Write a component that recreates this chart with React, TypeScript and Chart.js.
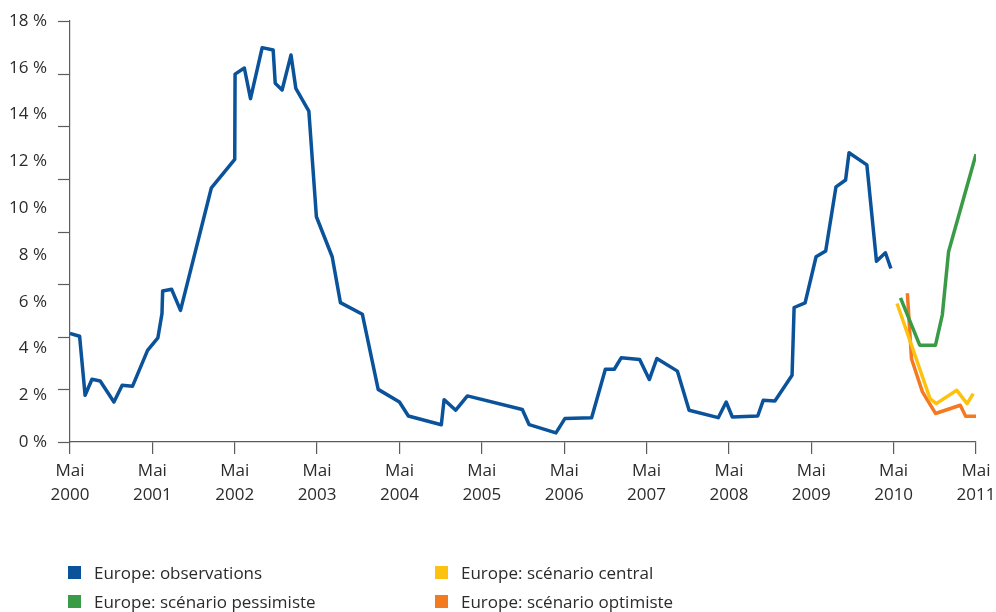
import React, { useEffect, useRef } from "react";
import { Chart, registerables } from "chart.js";

Chart.register(...registerables);

// Months counted from May 2000 (0 = Mai 2000, 132 = Mai 2011)
const observationMonths = [
  0, 1.4, 2.2, 3.2, 4.4, 6.4, 7.6, 9.1, 11.3, 12.8, 13.4, 13.5, 14.8, 16.1, 20.6,
  24.0, 24.05, 25.4, 26.3, 28.0, 29.6, 29.9, 30.9, 32.2, 32.9, 34.8, 35.9, 38.2,
  39.4, 42.6, 44.9, 48.0, 49.3, 54.1, 54.5, 56.2, 57.9, 65.9, 66.9, 70.8, 72.1,
  76.0, 78.0, 79.3, 80.3, 83.0, 84.4, 85.5, 88.5, 90.2, 94.45, 95.6, 96.5, 100.2,
  101.0, 102.7, 105.2, 105.5, 107.1, 108.7, 110.1, 111.6, 113.0, 113.5, 116.1,
  117.5, 118.8, 119.6,
];
const observationRates = [
  4.64, 4.52, 2.0, 2.68, 2.61, 1.71, 2.43, 2.38, 3.92, 4.45, 5.49, 6.46, 6.53, 5.63,
  10.87, 12.08, 15.73, 15.99, 14.68, 16.86, 16.76, 15.34, 15.05, 16.55, 15.12,
  14.15, 9.63, 7.92, 5.96, 5.46, 2.25, 1.71, 1.11, 0.74, 1.81, 1.36, 1.97, 1.39,
  0.74, 0.39, 1.0, 1.04, 3.11, 3.11, 3.6, 3.53, 2.67, 3.57, 3.03, 1.36, 1.04, 1.71,
  1.07, 1.11, 1.78, 1.75, 2.85, 5.75, 5.95, 7.92, 8.17, 10.91, 11.2, 12.37, 11.85,
  7.73, 8.09, 7.42,
];

const pessimisticMonths = [121.0, 123.8, 126.1, 127.1, 128.0, 132.0];
const pessimisticRates = [6.16, 4.14, 4.14, 5.45, 8.13, 12.3];

const centralMonths = [120.5, 125.3, 126.2, 129.2, 130.7, 131.6];
const centralRates = [5.92, 1.86, 1.64, 2.21, 1.64, 2.07];

const optimisticMonths = [122.0, 122.6, 124.2, 126.1, 129.7, 130.5, 132.0];
const optimisticRates = [6.36, 3.56, 2.14, 1.22, 1.57, 1.1, 1.1];

const axisYears = [2000, 2001, 2002, 2003, 2004, 2005, 2006, 2007, 2008, 2009, 2010, 2011];
const yTickMarkValues = [0, 2.25, 4.5, 6.75, 9, 11.25, 13.5, 15.75, 18];

const seriesNames = [
  "Europe: observations",
  "Europe: scénario pessimiste",
  "Europe: scénario central",
  "Europe: scénario optimiste",
];
const seriesColors = ["#0a539b", "#3a9b46", "#fdc210", "#f47a21"];

const FONT = "'Open Sans', 'DejaVu Sans', sans-serif";
const TEXT_COLOR = "#2b2b2b";
const AXIS_COLOR = "#5c5c5c";

const toPoints = (xs: number[], ys: number[]) => xs.map((x, i) => ({ x, y: ys[i] }));

// Short tick marks on the left axis, spaced independently of the percent labels
const yTickMarksPlugin = {
  id: "yTickMarks",
  afterDraw(chart: any) {
    const y = chart.scales.y;
    const left = chart.chartArea.left;
    const ctx = chart.ctx;
    ctx.save();
    ctx.strokeStyle = AXIS_COLOR;
    ctx.lineWidth = 1.2;
    for (const v of yTickMarkValues) {
      const py = Math.round(y.getPixelForValue(v)) + 0.5;
      ctx.beginPath();
      ctx.moveTo(left - 12, py);
      ctx.lineTo(left, py);
      ctx.stroke();
    }
    ctx.restore();
  },
};

export default function App() {
  const canvasRef = useRef<HTMLCanvasElement | null>(null);

  useEffect(() => {
    if (!canvasRef.current) return;
    const lineStyle = (i: number) => ({
      label: seriesNames[i],
      borderColor: seriesColors[i],
      backgroundColor: seriesColors[i],
      borderWidth: 3.5,
      pointRadius: 0,
      tension: 0,
      fill: false,
      borderJoinStyle: "round" as const,
      borderCapStyle: "butt" as const,
    });
    const chart = new Chart(canvasRef.current, {
      type: "line",
      data: {
        datasets: [
          { ...lineStyle(0), data: toPoints(observationMonths, observationRates) },
          { ...lineStyle(2), data: toPoints(centralMonths, centralRates) },
          { ...lineStyle(1), data: toPoints(pessimisticMonths, pessimisticRates) },
          { ...lineStyle(3), data: toPoints(optimisticMonths, optimisticRates) },
        ],
      },
      options: {
        responsive: false,
        animation: false,
        devicePixelRatio: 1,
        layout: { autoPadding: false, padding: { top: 21, right: 20, left: 0, bottom: 0 } },
        plugins: {
          legend: { display: false },
          tooltip: { enabled: false },
        },
        scales: {
          x: {
            type: "linear",
            min: 0,
            max: 132,
            afterFit: (s: any) => {
              s.height = 170;
              s.paddingLeft = 0;
              s.paddingRight = 0;
            },
            ticks: {
              stepSize: 12,
              autoSkip: false,
              maxRotation: 0,
              padding: 6,
              color: TEXT_COLOR,
              font: { family: FONT, size: 17, lineHeight: 1.37 },
              callback: (_v: any, index: number) => ["Mai", String(axisYears[index])],
            },
            grid: {
              drawOnChartArea: false,
              drawTicks: true,
              tickLength: 12,
              color: AXIS_COLOR,
              lineWidth: 1.2,
            },
            border: { display: true, color: AXIS_COLOR, width: 1.2 },
          },
          y: {
            type: "linear",
            min: 0,
            max: 18,
            afterFit: (s: any) => {
              s.width = 70;
              s.paddingTop = 0;
              s.paddingBottom = 0;
            },
            ticks: {
              stepSize: 2,
              padding: 23,
              color: TEXT_COLOR,
              font: { family: FONT, size: 17 },
              callback: (v: any) => `${v} %`,
            },
            grid: { display: false, drawTicks: false },
            border: { display: true, color: AXIS_COLOR, width: 1.2 },
          },
        },
      },
      plugins: [yTickMarksPlugin],
    });
    return () => chart.destroy();
  }, []);

  const legendRows = [
    [0, 2],
    [1, 3],
  ];
  const colX = [68, 435];
  const rowY = [572, 601];

  return (
    <div style={{ position: "fixed", left: 0, top: 0, width: 996, height: 612, background: "#fff" }}>
      <canvas ref={canvasRef} width={996} height={612} style={{ display: "block" }} />
      {legendRows.map((row, r) =>
        row.map((si, c) => (
          <div
            key={si}
            style={{
              position: "absolute",
              left: colX[c],
              top: rowY[r] - 12,
              height: 24,
              display: "flex",
              alignItems: "center",
              fontFamily: FONT,
              fontSize: 17,
              color: TEXT_COLOR,
              whiteSpace: "nowrap",
            }}
          >
            <span
              style={{
                display: "inline-block",
                width: 13,
                height: 13,
                background: seriesColors[si],
                marginRight: 13,
              }}
            />
            <span>{seriesNames[si]}</span>
          </div>
        ))
      )}
    </div>
  );
}
